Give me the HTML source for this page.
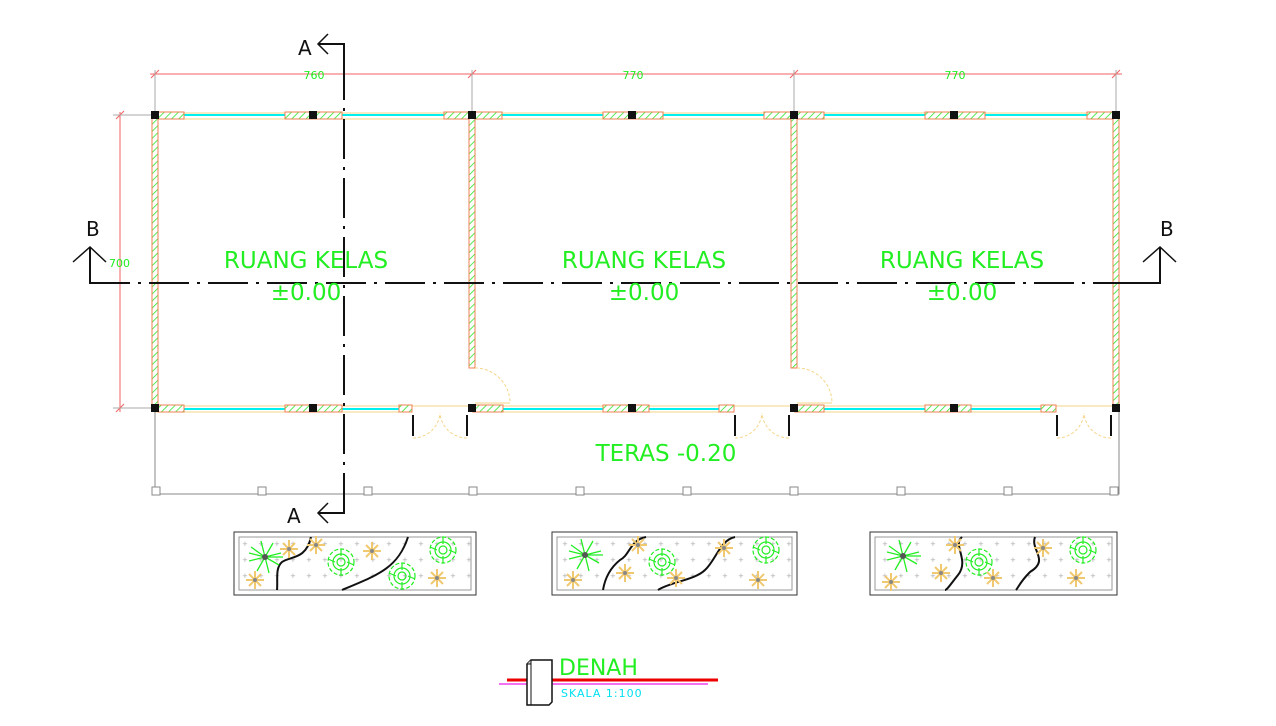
<!DOCTYPE html>
<html><head><meta charset="utf-8"><style>
html,body{margin:0;padding:0;background:#fff;}
svg{display:block;}
text{font-family:"DejaVu Sans","Liberation Sans",sans-serif;}
</style></head><body>
<svg width="1276" height="726" viewBox="0 0 1276 726" xmlns="http://www.w3.org/2000/svg">
<defs>
<pattern id="hatch" width="5" height="5" patternUnits="userSpaceOnUse" patternTransform="rotate(45)">
<rect width="5" height="5" fill="#fff"/><line x1="0" y1="0" x2="0" y2="5" stroke="#2ee62e" stroke-width="1.6"/>
</pattern>
<pattern id="dots" width="16" height="16" patternUnits="userSpaceOnUse" x="240" y="538">
<text x="2" y="8" font-size="7" fill="#aaa">+</text>
</pattern>
<g id="star"><g stroke="#f0c870" stroke-width="2" fill="none">
<line x1="-9" y1="0" x2="9" y2="0"/><line x1="0" y1="-9" x2="0" y2="9"/><line x1="-6" y1="-6" x2="6" y2="6"/><line x1="-6" y1="6" x2="6" y2="-6"/></g>
<circle r="2" fill="#888"/></g>
<g id="bush"><g stroke="#22ee22" stroke-width="1.2" fill="none">
<circle r="13" stroke-dasharray="4 2"/><circle r="8"/><circle r="4"/><path d="M-13 -3 L-6 0 M13 3 L6 0 M0 -13 L0 -6 M0 13 L0 6"/></g></g>
<g id="palm"><g stroke="#22ee22" stroke-width="1.3" fill="none">
<path d="M0 0 L-14 -10 M0 0 L-4 -16 M0 0 L8 -14 M0 0 L16 -4 M0 0 L14 8 M0 0 L4 16 M0 0 L-8 14 M0 0 L-16 4 M0 0 L-16 -4 M0 0 L18 0"/></g><circle r="3" fill="#555"/></g>
</defs>

<!-- dimension line top -->
<g stroke="#f06060" stroke-width="1">
<line x1="150" y1="74" x2="1122" y2="74"/>
<line x1="151" y1="78" x2="159" y2="70"/><line x1="468" y1="78" x2="476" y2="70"/><line x1="790" y1="78" x2="798" y2="70"/><line x1="1112" y1="78" x2="1120" y2="70"/>
<line x1="120" y1="112" x2="120" y2="412"/>
<line x1="116" y1="119" x2="124" y2="111"/><line x1="116" y1="412" x2="124" y2="404"/>
</g>
<g stroke="#aaa" stroke-width="1">
<line x1="155" y1="70" x2="155" y2="112"/><line x1="472" y1="70" x2="472" y2="112"/><line x1="794" y1="70" x2="794" y2="112"/><line x1="1116" y1="70" x2="1116" y2="112"/>
<line x1="113" y1="115" x2="152" y2="115"/><line x1="113" y1="408" x2="152" y2="408"/>
</g>
<g fill="#22ee22" font-size="11">
<text x="314" y="79" text-anchor="middle">760</text>
<text x="633" y="79" text-anchor="middle">770</text>
<text x="955" y="79" text-anchor="middle">770</text>
<text x="109" y="267">700</text>
</g>

<!-- top wall -->
<g>
<rect x="155" y="113" width="961" height="6" fill="#fff" stroke="#f5d68a" stroke-width="1"/>
<line x1="155" y1="115" x2="1116" y2="115" stroke="#00f0f0" stroke-width="2"/>
<g fill="url(#hatch)" stroke="#f08050" stroke-width="1">
<rect x="158" y="112" width="26" height="7"/><rect x="285" y="112" width="57" height="7"/><rect x="444" y="112" width="58" height="7"/>
<rect x="603" y="112" width="60" height="7"/><rect x="764" y="112" width="60" height="7"/><rect x="925" y="112" width="60" height="7"/><rect x="1087" y="112" width="28" height="7"/>
</g>
</g>
<!-- bottom wall -->
<g>
<rect x="155" y="406" width="961" height="6" fill="#fff" stroke="#f5d68a" stroke-width="1"/>
<line x1="155" y1="409" x2="412" y2="409" stroke="#00f0f0" stroke-width="2"/>
<line x1="472" y1="409" x2="734" y2="409" stroke="#00f0f0" stroke-width="2"/>
<line x1="794" y1="409" x2="1056" y2="409" stroke="#00f0f0" stroke-width="2"/>
<rect x="412" y="409" width="60" height="4" fill="#fff"/><rect x="734" y="409" width="60" height="4" fill="#fff"/><rect x="1056" y="409" width="60" height="4" fill="#fff"/>
<g fill="url(#hatch)" stroke="#f08050" stroke-width="1">
<rect x="158" y="405" width="26" height="7"/><rect x="285" y="405" width="57" height="7"/><rect x="399" y="405" width="13" height="7"/>
<rect x="473" y="405" width="30" height="7"/><rect x="603" y="405" width="46" height="7"/><rect x="719" y="405" width="15" height="7"/>
<rect x="795" y="405" width="29" height="7"/><rect x="925" y="405" width="46" height="7"/><rect x="1041" y="405" width="15" height="7"/>
</g>
</g>
<!-- vertical walls -->
<g fill="url(#hatch)" stroke="#f08050" stroke-width="1">
<rect x="152" y="115" width="6" height="293"/>
<rect x="469" y="115" width="6" height="253"/>
<rect x="791" y="115" width="6" height="253"/>
<rect x="1113" y="115" width="6" height="293"/>
</g>
<!-- columns -->
<g fill="#111">
<rect x="151" y="111" width="8" height="8"/><rect x="309" y="111" width="8" height="8"/><rect x="468" y="111" width="8" height="8"/><rect x="628" y="111" width="8" height="8"/><rect x="790" y="111" width="8" height="8"/><rect x="950" y="111" width="8" height="8"/><rect x="1112" y="111" width="8" height="8"/>
<rect x="151" y="404" width="8" height="8"/><rect x="309" y="404" width="8" height="8"/><rect x="468" y="404" width="8" height="8"/><rect x="628" y="404" width="8" height="8"/><rect x="790" y="404" width="8" height="8"/><rect x="950" y="404" width="8" height="8"/><rect x="1112" y="404" width="8" height="8"/>
</g>
<!-- inner doors -->
<g fill="none" stroke="#f5d68a" stroke-width="1" stroke-dasharray="3 2">
<path d="M475 368 A35 35 0 0 1 510 403"/><path d="M797 368 A35 35 0 0 1 832 403"/>
<path d="M413 438 A27 27 0 0 0 440 413"/><path d="M467 438 A27 27 0 0 1 440 413"/>
<path d="M735 438 A27 27 0 0 0 762 413"/><path d="M789 438 A27 27 0 0 1 762 413"/>
<path d="M1057 438 A27 27 0 0 0 1084 413"/><path d="M1111 438 A27 27 0 0 1 1084 413"/>
</g>
<line x1="475" y1="403" x2="510" y2="403" stroke="#f5d68a"/><line x1="797" y1="403" x2="832" y2="403" stroke="#f5d68a"/>
<g stroke="#111" stroke-width="2">
<line x1="413" y1="415" x2="413" y2="436"/><line x1="467" y1="415" x2="467" y2="436"/>
<line x1="735" y1="415" x2="735" y2="436"/><line x1="789" y1="415" x2="789" y2="436"/>
<line x1="1057" y1="415" x2="1057" y2="436"/><line x1="1111" y1="415" x2="1111" y2="436"/>
</g>
<!-- teras -->
<path d="M155 412 V494 H1119 V412" fill="none" stroke="#888" stroke-width="1"/>
<g fill="#fff" stroke="#888" stroke-width="1">
<rect x="152" y="487" width="8" height="8"/><rect x="258" y="487" width="8" height="8"/><rect x="364" y="487" width="8" height="8"/><rect x="469" y="487" width="8" height="8"/><rect x="576" y="487" width="8" height="8"/><rect x="683" y="487" width="8" height="8"/><rect x="790" y="487" width="8" height="8"/><rect x="897" y="487" width="8" height="8"/><rect x="1004" y="487" width="8" height="8"/><rect x="1110" y="487" width="8" height="8"/>
</g>

<!-- section lines -->
<line x1="344" y1="60" x2="344" y2="500" stroke="#111" stroke-width="2" stroke-dasharray="40 8 3 8"/>
<path d="M318 44 H344 V70" fill="none" stroke="#111" stroke-width="2"/><path d="M328 34 L318 44 L328 54" fill="none" stroke="#111" stroke-width="1.5"/>
<path d="M318 513 H344 V485" fill="none" stroke="#111" stroke-width="2"/><path d="M328 503 L318 513 L328 523" fill="none" stroke="#111" stroke-width="1.5"/>
<text x="298" y="55" font-size="20" fill="#111">A</text>
<text x="287" y="523" font-size="20" fill="#111">A</text>
<line x1="90" y1="283" x2="1160" y2="283" stroke="#111" stroke-width="2" stroke-dasharray="40 8 3 8"/>
<path d="M90 248 V283 H128" fill="none" stroke="#111" stroke-width="2"/><path d="M73 262 L90 247 L106 262" fill="none" stroke="#111" stroke-width="1.5"/>
<path d="M1160 248 V283 H1130" fill="none" stroke="#111" stroke-width="2"/><path d="M1143 262 L1160 247 L1176 262" fill="none" stroke="#111" stroke-width="1.5"/>
<text x="86" y="236" font-size="20" fill="#111">B</text>
<text x="1160" y="236" font-size="20" fill="#111">B</text>

<!-- labels -->
<g fill="#22ee22" font-size="23" text-anchor="middle">
<text x="306" y="268">RUANG KELAS</text><text x="306" y="300">±0.00</text>
<text x="644" y="268">RUANG KELAS</text><text x="644" y="300">±0.00</text>
<text x="962" y="268">RUANG KELAS</text><text x="962" y="300">±0.00</text>
<text x="666" y="461">TERAS -0.20</text>
</g>

<!-- planters -->
<g>
<rect x="234" y="532" width="242" height="63" fill="#fff" stroke="#333"/><rect x="239" y="537" width="232" height="53" fill="url(#dots)" stroke="#999"/>
<rect x="552" y="532" width="245" height="63" fill="#fff" stroke="#333"/><rect x="557" y="537" width="235" height="53" fill="url(#dots)" stroke="#999"/>
<rect x="870" y="532" width="247" height="63" fill="#fff" stroke="#333"/><rect x="875" y="537" width="237" height="53" fill="url(#dots)" stroke="#999"/>
</g>
<g fill="none" stroke="#111" stroke-width="2">
<path d="M311 537 C306 560 290 556 282 562 C275 568 278 580 277 590"/>
<path d="M408 537 C398 568 378 575 342 590"/>
<path d="M646 537 C630 540 630 555 620 560 C610 568 605 578 603 590"/>
<path d="M735 537 C720 540 716 560 705 570 C695 580 670 582 658 590"/>
<path d="M962 537 C952 545 970 560 958 575 C950 585 947 590 945 590"/>
<path d="M1035 537 C1030 550 1050 560 1030 572 C1020 582 1018 588 1016 590"/>
</g>
<use href="#palm" x="265" y="557"/><use href="#star" x="289" y="549"/><use href="#star" x="255" y="580"/><use href="#star" x="316" y="545"/>
<use href="#bush" x="341" y="562"/><use href="#star" x="372" y="551"/><use href="#bush" x="402" y="576"/><use href="#star" x="437" y="578"/><use href="#bush" x="443" y="550"/>
<use href="#palm" x="585" y="555"/><use href="#star" x="573" y="580"/><use href="#star" x="625" y="573"/><use href="#star" x="638" y="545"/><use href="#bush" x="662" y="562"/><use href="#star" x="676" y="578"/><use href="#star" x="724" y="548"/><use href="#bush" x="766" y="550"/><use href="#star" x="758" y="580"/>
<use href="#palm" x="903" y="556"/><use href="#star" x="891" y="582"/><use href="#star" x="941" y="573"/><use href="#star" x="955" y="545"/><use href="#bush" x="979" y="562"/><use href="#star" x="993" y="578"/><use href="#star" x="1043" y="548"/><use href="#bush" x="1083" y="550"/><use href="#star" x="1076" y="578"/>

<!-- title -->
<line x1="507" y1="680" x2="718" y2="680" stroke="#ee0000" stroke-width="3"/>
<line x1="499" y1="684" x2="708" y2="684" stroke="#ee44ee" stroke-width="1.5"/>
<path d="M527 705 V664 L531 660 H552 V702 L549 705 Z" fill="#fff" stroke="#111" stroke-width="1.5"/>
<path d="M527 664 H531 V660 M531 664 V705" fill="#ccc" stroke="#111" stroke-width="1"/>
<text x="559" y="675" font-size="22" fill="#22ee22">DENAH</text>
<text x="561" y="697" font-size="11" fill="#00e0f0" letter-spacing="1">SKALA 1:100</text>
</svg>
</body></html>
